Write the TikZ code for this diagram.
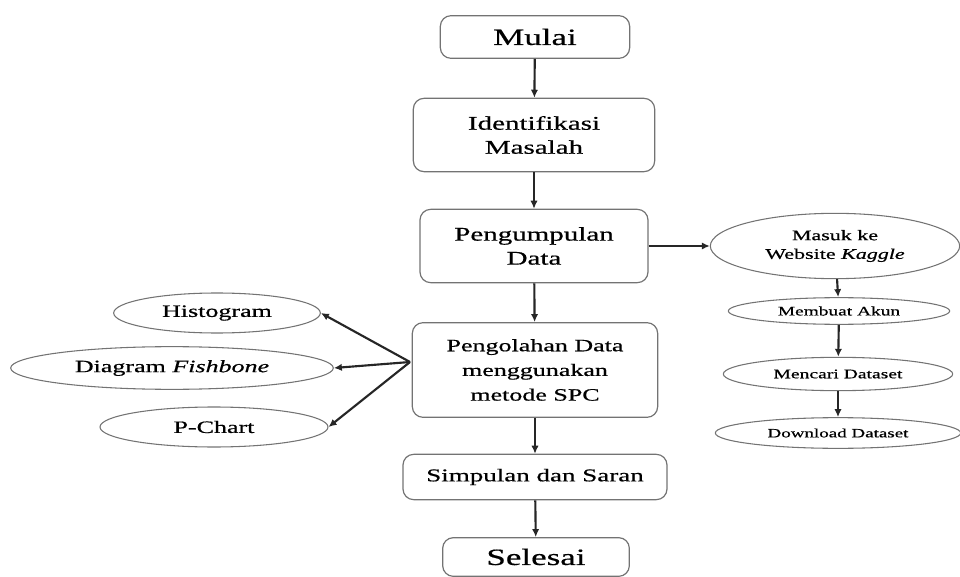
\documentclass[tikz,border=0pt]{standalone}
\usepackage{fontspec}
\setmainfont{Liberation Serif}[FakeStretch=1.5,FakeBold=0.6,
  UprightFont=Liberation Serif,
  ItalicFont=Liberation Serif Italic,
  BoldFont=Liberation Serif Bold]
\usetikzlibrary{arrows.meta,shapes.geometric}

\begin{document}
\begin{tikzpicture}[x=0.75pt,y=-0.75pt,
    box/.style={draw=black!55,line width=0.9pt,rounded corners=8pt,align=center,inner sep=0pt},
    oval/.style={draw=black!55,line width=0.8pt,ellipse,align=center,inner sep=0pt},
    flow/.style={-{Latex[length=6pt,width=5.5pt]},line width=1.6pt,black!85}]
    \useasboundingbox (0,0) rectangle (960,577);

    \node[box,minimum width=142pt,minimum height=32pt,font=\fontsize{17.5}{20}\selectfont] (mulai) at (535,37) {Mulai};
    \node[box,minimum width=181pt,minimum height=55pt,font=\fontsize{14.5}{18}\selectfont] (idm) at (534,135) {Identifikasi\\Masalah};
    \node[box,minimum width=171pt,minimum height=55pt,font=\fontsize{14.5}{18}\selectfont] (pgd) at (534,246) {Pengumpulan\\Data};
    \node[box,minimum width=184pt,minimum height=71pt,font=\fontsize{13}{18.5}\selectfont] (pgl) at (535,370) {Pengolahan Data\\menggunakan\\metode SPC};
    \node[box,minimum width=198pt,minimum height=34pt,font=\fontsize{13.5}{16}\selectfont] (sds) at (535,477) {Simpulan dan Saran};
    \node[box,minimum width=140pt,minimum height=29pt,font=\fontsize{17.5}{20}\selectfont] (sls) at (536,557) {Selesai};

    \draw[flow] (mulai) -- (idm);
    \draw[flow] (idm) -- (pgd);
    \draw[flow] (pgd) -- (pgl);
    \draw[flow] (pgl) -- (sds);
    \draw[flow] (sds) -- (sls);

    % kaggle
    \node[oval,minimum width=187pt,minimum height=49pt,font=\fontsize{11}{14}\selectfont] (kgl) at (835,246) {Masuk ke\\Website \textit{Kaggle}};
    \node[oval,minimum width=166pt,minimum height=20pt,font=\fontsize{9.7}{12}\selectfont] (akun) at (839,311) {Membuat Akun};
    \node[oval,minimum width=172pt,minimum height=25pt,font=\fontsize{9.8}{12}\selectfont] (cari) at (838,374) {Mencari Dataset};
    \node[oval,minimum width=184pt,minimum height=23pt,font=\fontsize{9.5}{12}\selectfont] (dl) at (838,433) {Download Dataset};

    \draw[flow] (pgd) -- (kgl);
    \draw[flow] (kgl) -- (akun);
    \draw[flow] (akun) -- (cari);
    \draw[flow] (cari) -- (dl);

    % spc
    \node[oval,minimum width=155pt,minimum height=30pt,font=\fontsize{13}{16}\selectfont] (hist) at (217,313) {Histogram};
    \node[oval,minimum width=242pt,minimum height=32pt,font=\fontsize{13}{16}\selectfont] (fish) at (172,368) {Diagram \textit{Fishbone}};
    \node[oval,minimum width=171pt,minimum height=30pt,font=\fontsize{13}{16}\selectfont] (pch) at (214,427) {P-Chart};

    \coordinate (fan) at (410,362);
    \draw[flow] (fan) -- (hist.east);
    \draw[flow] (fan) -- (fish.east);
    \draw[flow] (fan) -- (pch.east);
\end{tikzpicture}
\end{document}
